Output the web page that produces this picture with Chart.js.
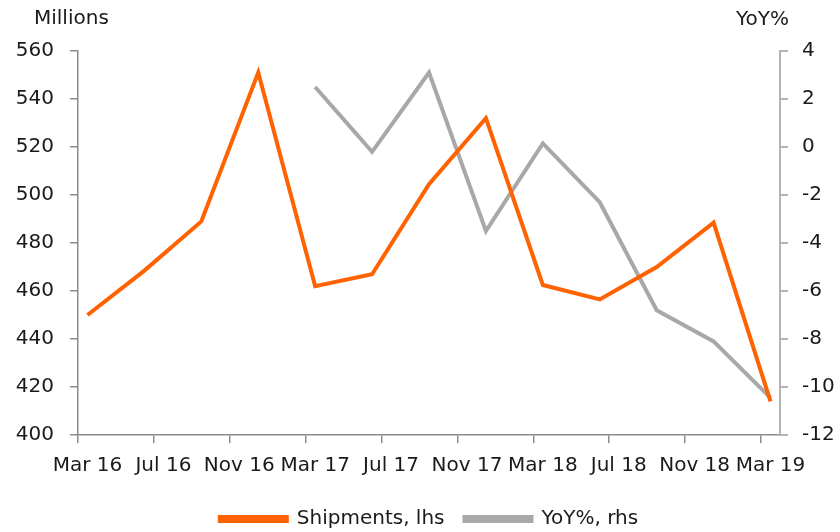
<!DOCTYPE html>
<html>
<head>
<meta charset="utf-8">
<script src="https://cdn.jsdelivr.net/npm/chart.js@4"></script>
<style>
  html, body { margin: 0; padding: 0; background: #fff; }
  #wrap { width: 840px; height: 532px; }
</style>
</head>
<body>
<div id="wrap"><canvas id="myChart" width="840" height="532"></canvas></div>
<script>
// quarterly observations (month of the quarter)
const periods = ['2016-03', '2016-06', '2016-09', '2016-12', '2017-03', '2017-06', '2017-09',
  '2017-12', '2018-03', '2018-06', '2018-09', '2018-12', '2019-03'];
const shipments = [450, 468.5, 489, 551, 462, 467, 504.5, 532, 462.5, 456.5, 470, 488.5, 414];
const yoy = [null, null, null, null, 2.5, -0.2, 3.1, -3.5, 0.15, -2.3, -6.8, -8.1, -10.45];

const tickLabels = ['Mar 16', 'Jul 16', 'Nov 16', 'Mar 17', 'Jul 17', 'Nov 17', 'Mar 18', 'Jul 18', 'Nov 18', 'Mar 19'];
const leftTicks = [400, 420, 440, 460, 480, 500, 520, 540, 560];
const rightTicks = [-12, -10, -8, -6, -4, -2, 0, 2, 4];

const ORANGE = '#FF6200';
const GREY = '#A8A8A8';
const TEXT = '#1a1a1a';
const FONT = "'DejaVu Sans', sans-serif";

// month offset from Mar 16, plotted mid-month
function monthPos(p) {
  let [y, m] = p.split('-').map(Number);
  return (y - 2016) * 12 + (m - 3) + 0.5;
}
const tickPos = tickLabels.map((t, i) => i * 4);

function points(values) {
  return periods.map((p, i) => ({ x: monthPos(p), y: values[i] }));
}

const axisTitles = {
  id: 'axisTitles',
  afterDraw(chart) {
    const c = chart.ctx;
    c.save();
    c.fillStyle = TEXT;
    c.font = '20px ' + FONT;
    c.textBaseline = 'middle';
    c.textAlign = 'left';
    c.fillText('Millions', 34, 19);
    c.textAlign = 'right';
    c.fillText('YoY%', 789, 20);
    c.restore();
  }
};

let ctx = document.getElementById('myChart');
let myChart = new Chart(ctx, {
  type: 'line',
  data: {
    datasets: [{
      label: 'Shipments, lhs',
      data: points(shipments),
      borderColor: ORANGE,
      backgroundColor: ORANGE,
      borderWidth: 4,
      borderJoinStyle: 'miter',
      pointRadius: 0,
      yAxisID: 'y'
    }, {
      label: 'YoY%, rhs',
      data: points(yoy),
      borderColor: GREY,
      backgroundColor: GREY,
      borderWidth: 4,
      borderJoinStyle: 'miter',
      pointRadius: 0,
      yAxisID: 'y2'
    }]
  },
  options: {
    responsive: false,
    animation: false,
    layout: { padding: { top: 51, left: 0, right: 0, bottom: -7 } },
    plugins: {
      tooltip: { enabled: false },
      legend: {
        position: 'bottom',
        fullSize: false,
        labels: {
          boxWidth: 67,
          boxHeight: 4,
          padding: 20,
          color: TEXT,
          font: { family: FONT, size: 20 }
        }
      }
    },
    scales: {
      x: {
        type: 'linear',
        min: 0,
        max: 37,
        afterBuildTicks: s => { s.ticks = tickPos.map(v => ({ value: v })); },
        border: { color: '#8c8c8c', width: 1.5 },
        grid: { drawOnChartArea: false, color: '#8c8c8c', tickLength: 8, lineWidth: 1.5 },
        ticks: {
          autoSkip: false,
          maxRotation: 0,
          padding: 11,
          labelOffset: 9.5,
          color: TEXT,
          font: { family: FONT, size: 20 },
          callback: v => tickLabels[tickPos.indexOf(v)]
        }
      },
      y: {
        position: 'left',
        min: 400,
        max: 560,
        afterBuildTicks: s => { s.ticks = leftTicks.map(v => ({ value: v })); },
        afterFit: s => { s.width = 78; },
        border: { color: '#8c8c8c', width: 1.5 },
        grid: { drawOnChartArea: false, color: '#8c8c8c', tickLength: 8, lineWidth: 1.5 },
        ticks: {
          padding: 16,
          color: TEXT,
          font: { family: FONT, size: 20 }
        }
      },
      y2: {
        position: 'right',
        min: -12,
        max: 4,
        afterBuildTicks: s => { s.ticks = rightTicks.map(v => ({ value: v })); },
        afterFit: s => { s.width = 60; },
        border: { color: '#b4b4b4', width: 2 },
        grid: { drawOnChartArea: false, color: '#b4b4b4', tickLength: 8, lineWidth: 2 },
        ticks: {
          padding: 14,
          color: TEXT,
          font: { family: FONT, size: 20 }
        }
      }
    }
  },
  plugins: [axisTitles]
});
</script>
</body>
</html>
